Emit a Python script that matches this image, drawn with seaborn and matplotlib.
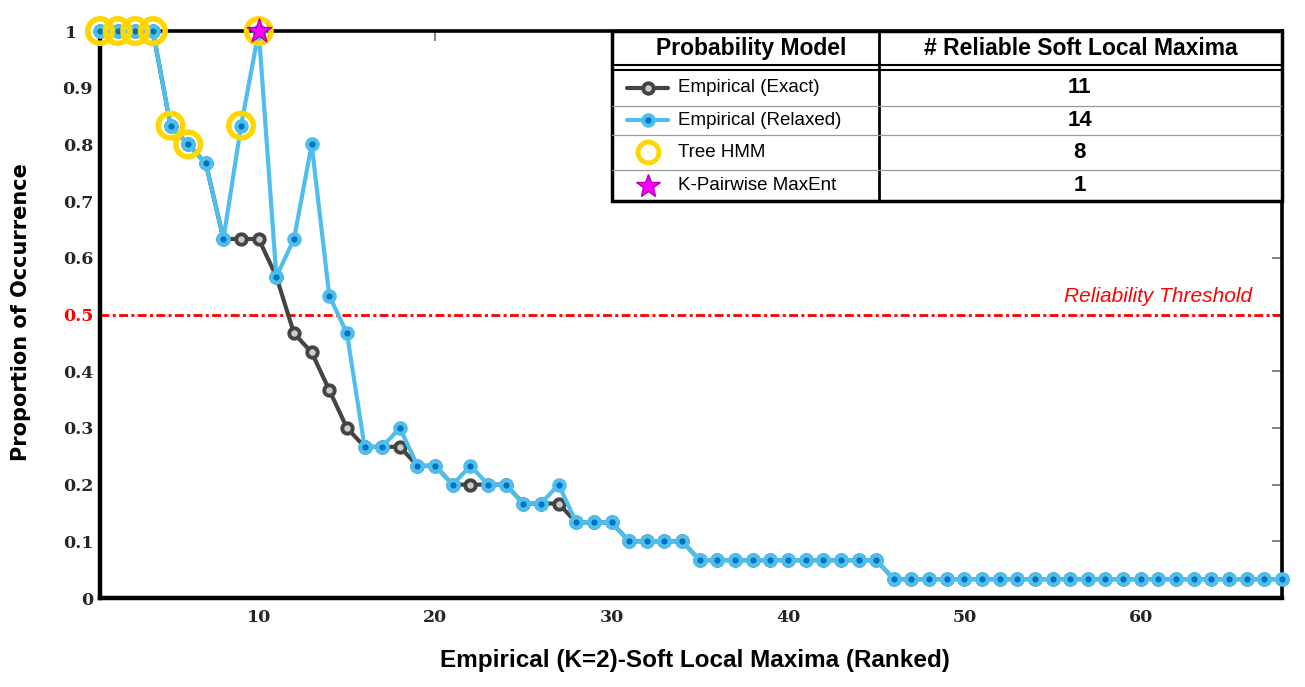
import matplotlib
matplotlib.use("Agg")
import matplotlib.pyplot as plt
import matplotlib.transforms as mtransforms
import seaborn as sns
import pandas as pd
from matplotlib.patches import Rectangle

# ranked soft local maxima and proportion of occurrence
rank = list(range(1, 69))
relaxed = [1.0, 1.0, 1.0, 1.0, 0.8333, 0.8, 0.7667, 0.6333, 0.8333, 1.0,
           0.5667, 0.6333, 0.8, 0.5333, 0.4667, 0.2667, 0.2667, 0.3, 0.2333, 0.2333,
           0.2, 0.2333, 0.2, 0.2, 0.1667, 0.1667, 0.2, 0.1333, 0.1333, 0.1333,
           0.1, 0.1, 0.1, 0.1, 0.0667, 0.0667, 0.0667, 0.0667, 0.0667, 0.0667,
           0.0667, 0.0667, 0.0667, 0.0667, 0.0667, 0.0333, 0.0333, 0.0333, 0.0333, 0.0333,
           0.0333, 0.0333, 0.0333, 0.0333, 0.0333, 0.0333, 0.0333, 0.0333, 0.0333, 0.0333,
           0.0333, 0.0333, 0.0333, 0.0333, 0.0333, 0.0333, 0.0333, 0.0333]
exact = [1.0, 1.0, 1.0, 1.0, 0.8333, 0.8, 0.7667, 0.6333, 0.6333, 0.6333,
         0.5667, 0.4667, 0.4333, 0.3667, 0.3, 0.2667, 0.2667, 0.2667, 0.2333, 0.2333,
         0.2, 0.2, 0.2, 0.2, 0.1667, 0.1667, 0.1667, 0.1333, 0.1333, 0.1333,
         0.1, 0.1, 0.1, 0.1, 0.0667, 0.0667, 0.0667, 0.0667, 0.0667, 0.0667,
         0.0667, 0.0667, 0.0667, 0.0667, 0.0667, 0.0333, 0.0333, 0.0333, 0.0333, 0.0333,
         0.0333, 0.0333, 0.0333, 0.0333, 0.0333, 0.0333, 0.0333, 0.0333, 0.0333, 0.0333,
         0.0333, 0.0333, 0.0333, 0.0333, 0.0333, 0.0333, 0.0333, 0.0333]
tree_hmm_ranks = [1, 2, 3, 4, 5, 6, 9, 10]
maxent_ranks = [10]

models = ["Empirical (Exact)", "Empirical (Relaxed)", "Tree HMM", "K-Pairwise MaxEnt"]
n_reliable = [11, 14, 8, 1]
threshold = 0.5

yticks = [0, 0.1, 0.2, 0.3, 0.4, 0.5, 0.6, 0.7, 0.8, 0.9, 1]
ytick_labels = ["0", "0.1", "0.2", "0.3", "0.4", "0.5", "0.6", "0.7", "0.8", "0.9", "1"]
xticks = [10, 20, 30, 40, 50, 60]

df = pd.DataFrame({"rank": rank, "relaxed": relaxed, "exact": exact})
hmm = df[df["rank"].isin(tree_hmm_ranks)]
maxent = df[df["rank"].isin(maxent_ranks)]

GRAY, GRAY_FACE = "#444444", "#cccccc"
BLUE_LINE, BLUE_FACE = "#4DBEEE", "#0072BD"
GOLD = "#FFD700"
MAGENTA, MAGENTA_EDGE = "#FF00FF", "#B000B0"

sns.set_style("white")
plt.rcParams["text.color"] = "black"
plt.rcParams["axes.labelcolor"] = "black"

fig = plt.figure(figsize=(13.05, 6.87), dpi=100)
ax = fig.add_axes([0.0766, 0.1295, 0.9057, 0.8253])

exact_style = dict(color=GRAY, lw=3, marker="o", markersize=7.5, markerfacecolor=GRAY_FACE,
                   markeredgecolor=GRAY, markeredgewidth=2.8)
relaxed_style = dict(color=BLUE_LINE, lw=3, marker="o", markersize=7.5, markerfacecolor=BLUE_FACE,
                     markeredgecolor=BLUE_LINE, markeredgewidth=3)

sns.lineplot(data=df, x="rank", y="exact", ax=ax, zorder=3, clip_on=False, **exact_style)
sns.lineplot(data=df, x="rank", y="relaxed", ax=ax, zorder=4, clip_on=False, **relaxed_style)
sns.scatterplot(data=hmm, x="rank", y="relaxed", ax=ax, s=310, facecolor="none",
                edgecolor=GOLD, linewidth=4, zorder=5, clip_on=False)
sns.scatterplot(data=maxent, x="rank", y="relaxed", ax=ax, s=340, marker="*",
                color=MAGENTA, edgecolor=MAGENTA_EDGE, linewidth=1, zorder=6, clip_on=False)

ax.axhline(threshold, color="red", lw=2, ls=(0, (3.2, 1.2, 1.1, 1.2)), zorder=2)
ax.text(66.3, 0.532, "Reliability Threshold", color="red", style="italic",
        fontsize=15, family="Liberation Sans", ha="right", va="center")

ax.set_xlim(1, 68)
ax.set_ylim(0, 1)
ax.set_xticks(xticks)
ax.set_xticklabels([str(t) for t in xticks])
ax.set_yticks(yticks)
ax.set_yticklabels(ytick_labels)
ax.tick_params(direction="in", length=7, width=1.3, color="#777777",
               top=True, right=True, labelsize=12.5, labelcolor="#262626")
ax.tick_params(axis="y", pad=5)
ax.tick_params(axis="x", pad=8)
for lab in ax.get_xticklabels() + ax.get_yticklabels():
    lab.set_family("DejaVu Serif")
    lab.set_fontweight("bold")
ax.get_yticklabels()[5].set_color("red")
# the "1" label sits a bit further left, clear of the circles
top_lab = ax.get_yticklabels()[10]
top_lab.set_transform(top_lab.get_transform()
                      + mtransforms.ScaledTranslation(-16 / 100, 0, fig.dpi_scale_trans))

for side in ["left", "bottom"]:
    ax.spines[side].set_linewidth(3.2)
for side in ["top", "right"]:
    ax.spines[side].set_linewidth(2.6)
for sp in ax.spines.values():
    sp.set_color("black")

ax.set_xlabel("Empirical (K=2)-Soft Local Maxima (Ranked)", fontsize=17.5,
              fontweight="bold", family="Liberation Sans")
ax.set_ylabel("Proportion of Occurrence", fontsize=15, fontweight="bold", family="DejaVu Sans")
ax.xaxis.set_label_coords(0.503, -0.09)
ax.yaxis.set_label_coords(-0.058, 0.505)

# legend table in the upper right corner
tab_l, tab_r, tab_t, tab_b, col = 0.433, 1.0, 1.0, 0.700, 0.659
tr = ax.transAxes
ax.add_patch(Rectangle((tab_l, tab_b), tab_r - tab_l, tab_t - tab_b, transform=tr,
                       facecolor="white", edgecolor="black", lw=2.5, zorder=7, clip_on=False))
ax.plot([col, col], [tab_b, tab_t], transform=tr, color="black", lw=2, zorder=8)
for yy in [0.940, 0.932]:
    ax.plot([tab_l, tab_r], [yy, yy], transform=tr, color="black", lw=1.5, zorder=8)
for yy in [0.8677, 0.8175, 0.7549]:
    ax.plot([tab_l, tab_r], [yy, yy], transform=tr, color="#999999", lw=0.9, zorder=8)

ax.text(0.551, 0.970, "Probability Model", transform=tr, ha="center", va="center",
        fontsize=16.5, fontweight="bold", family="Liberation Sans", zorder=9)
ax.text(0.830, 0.970, "# Reliable Soft Local Maxima", transform=tr, ha="center", va="center",
        fontsize=16.5, fontweight="bold", family="Liberation Sans", zorder=9)

row_y = [0.900, 0.8426, 0.786, 0.7275]
sym_x = 0.4636
seg_x = [0.446, 0.481]
ax.plot(seg_x, [row_y[0]] * 2, transform=tr, color=GRAY, lw=3, zorder=9, clip_on=False)
ax.plot([sym_x], [row_y[0]], transform=tr, zorder=10, clip_on=False, ls="none",
        **{k: v for k, v in exact_style.items() if k not in ("color", "lw")})
ax.plot(seg_x, [row_y[1]] * 2, transform=tr, color=BLUE_LINE, lw=3, zorder=9, clip_on=False)
ax.plot([sym_x], [row_y[1]], transform=tr, zorder=10, clip_on=False, ls="none",
        **{k: v for k, v in relaxed_style.items() if k not in ("color", "lw")})
ax.plot([sym_x], [row_y[2]], transform=tr, zorder=9, ls="none", marker="o", markersize=15,
        markerfacecolor="none", markeredgecolor=GOLD, markeredgewidth=3.5, clip_on=False)
ax.plot([sym_x], [row_y[3]], transform=tr, zorder=9, ls="none", marker="*", markersize=18,
        markerfacecolor=MAGENTA, markeredgecolor=MAGENTA_EDGE, markeredgewidth=1, clip_on=False)

for yy, name, n in zip(row_y, models, n_reliable):
    ax.text(0.489, yy, name, transform=tr, ha="left", va="center", fontsize=13.5,
            family="Liberation Sans", zorder=9)
    ax.text(0.829, yy, str(n), transform=tr, ha="center", va="center", fontsize=16,
            fontweight="bold", family="Liberation Sans", zorder=9)

fig.savefig("out.png", dpi=100)
